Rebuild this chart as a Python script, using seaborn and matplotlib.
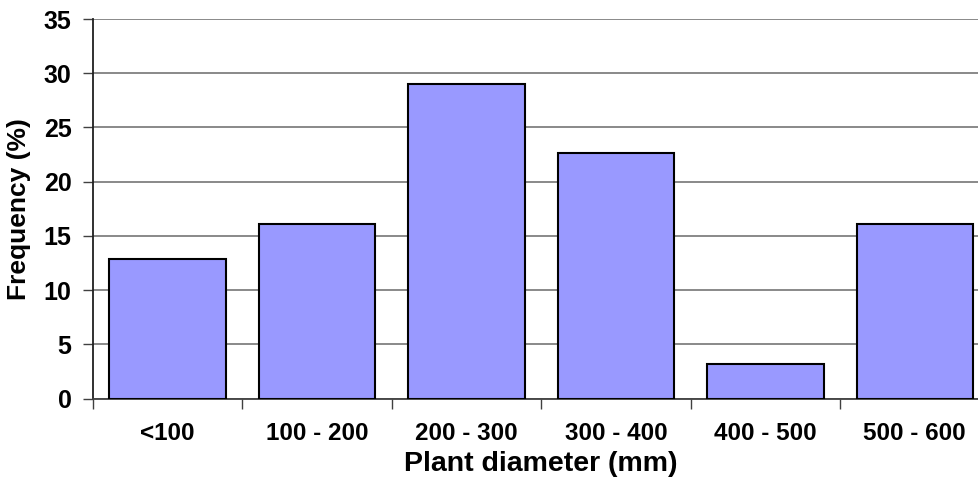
import matplotlib
matplotlib.use("Agg")
import matplotlib.pyplot as plt
import seaborn as sns
import pandas as pd

categories = ["<100", "100 - 200", "200 - 300", "300 - 400", "400 - 500", "500 - 600"]
frequency = [12.9, 16.1, 29.0, 22.6, 3.2, 16.1]
y_ticks = [0, 5, 10, 15, 20, 25, 30, 35]

df = pd.DataFrame({"diameter": categories, "frequency": frequency})

sns.set_theme(style="white")
plt.rcParams["font.family"] = ["Liberation Sans", "DejaVu Sans"]
plt.rcParams["font.weight"] = "bold"
plt.rcParams["text.color"] = "black"
plt.rcParams["axes.labelcolor"] = "black"

fig = plt.figure(figsize=(9.79, 4.88), dpi=100)
ax = fig.add_axes([93 / 979, 89.5 / 488, (989.5 - 93) / 979, (398.5 - 19) / 488])

sns.barplot(data=df, x="diameter", y="frequency", order=categories,
            color="#9999FF", saturation=1, width=0.78,
            edgecolor="black", linewidth=1.5, ax=ax, zorder=3)

ax.set_xlim(-0.5, len(categories) - 0.5)
ax.set_ylim(0, 35)
ax.set_yticks(y_ticks)
ax.set_yticklabels([str(v) for v in y_ticks], fontsize=18, fontweight="bold", color="black")
ax.yaxis.grid(True, color="#808080", linewidth=1.3, zorder=0)
ax.set_axisbelow(True)

# category boundary ticks on the x axis, labels centred under each bar
ax.set_xticks([i - 0.5 for i in range(len(categories) + 1)], minor=False)
ax.set_xticklabels([])
ax.set_xticks(range(len(categories)), minor=True)
ax.set_xticklabels(categories, minor=True, fontsize=17.5, fontweight="bold", color="black")
ax.tick_params(axis="x", which="minor", bottom=False, length=0, pad=17)
ax.tick_params(axis="x", which="major", bottom=True, length=7, width=1,
               color="#404040", direction="out")
ax.tick_params(axis="y", left=True, length=7, width=1, color="#404040",
               direction="out", pad=8.5)

for side in ["top", "right"]:
    ax.spines[side].set_visible(False)
ax.spines["left"].set_color("#202020")
ax.spines["left"].set_linewidth(1.3)
ax.spines["bottom"].set_color("#404040")
ax.spines["bottom"].set_linewidth(1.3)

ax.set_xlabel("Plant diameter (mm)", fontsize=20.5, fontweight="bold", labelpad=4)
ax.set_ylabel("Frequency (%)", fontsize=19, fontweight="bold", labelpad=9)

fig.savefig("out.png", dpi=100, facecolor="white")
